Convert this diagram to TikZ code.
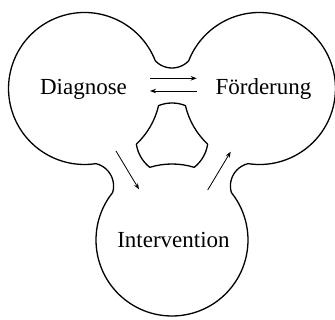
\documentclass[tikz,border=0pt]{standalone}
\usepackage{fontspec}
\setmainfont{Liberation Serif}
\usetikzlibrary{arrows.meta}
\begin{document}
\begin{tikzpicture}[x=1pt,y=1pt,
  outline/.style={line width=1.3pt,line join=round},
  label/.style={font=\fontsize{23}{27}\selectfont,anchor=base,inner sep=0pt},
  flow/.style={line width=0.8pt,-{Stealth[length=6pt,width=4.5pt]}}]
\useasboundingbox (-172,-181) rectangle (163,139);
% centres of the three big circles and of the outer notches
\coordinate (CL) at (150:101);
\coordinate (CB) at (270:101);
\coordinate (CR) at (30:101);
\coordinate (NT) at (90:94);
\coordinate (NL) at (210:94);
\coordinate (NR) at (330:94);
\coordinate (O) at (0,0);
% outer boundary
\draw[outline]
  ([shift={(316.53:23)}]NT) arc[start angle=316.53,end angle=223.47,radius=23]
  -- ([shift={(21.33:76)}]CL) arc[start angle=21.33,end angle=278.67,radius=76]
  -- ([shift={(436.53:23)}]NL) arc[start angle=436.53,end angle=343.47,radius=23]
  -- ([shift={(141.33:76)}]CB) arc[start angle=141.33,end angle=398.67,radius=76]
  -- ([shift={(196.53:23)}]NR) arc[start angle=196.53,end angle=103.47,radius=23]
  -- ([shift={(-98.67:76)}]CR) arc[start angle=-98.67,end angle=158.67,radius=76]
  -- cycle;
% inner hole
\draw[outline]
  ([shift={(68.13:36)}]O) arc[start angle=68.13,end angle=111.87,radius=36]
  -- ([shift={(347.02:76)}]CL) arc[start angle=347.02,end angle=312.98,radius=76]
  -- ([shift={(188.13:36)}]O) arc[start angle=188.13,end angle=231.87,radius=36]
  -- ([shift={(107.02:76)}]CB) arc[start angle=107.02,end angle=72.98,radius=76]
  -- ([shift={(308.13:36)}]O) arc[start angle=308.13,end angle=351.87,radius=36]
  -- ([shift={(227.02:76)}]CR) arc[start angle=227.02,end angle=192.98,radius=76]
  -- cycle;
% labels
\node[label] (diag) at (-88.5,44) {Diagnose};
\node[label] (foerd) at (91.5,44) {Förderung};
\node[label] (interv) at (1.5,-109) {Intervention};
% arrows
\coordinate (a1) at (-22,60.7);
\coordinate (a2) at (24.7,60.7);
\coordinate (b1) at (24.7,48);
\coordinate (b2) at (-22,48);
\coordinate (c1) at (-56,-12);
\coordinate (c2) at (-33,-50.3);
\coordinate (d1) at (35.7,-51);
\coordinate (d2) at (58.7,-12.7);
\draw[flow] (a1) -- (a2);
\draw[flow] (b1) -- (b2);
\draw[flow] (c1) -- (c2);
\draw[flow] (d1) -- (d2);
\end{tikzpicture}
\end{document}
